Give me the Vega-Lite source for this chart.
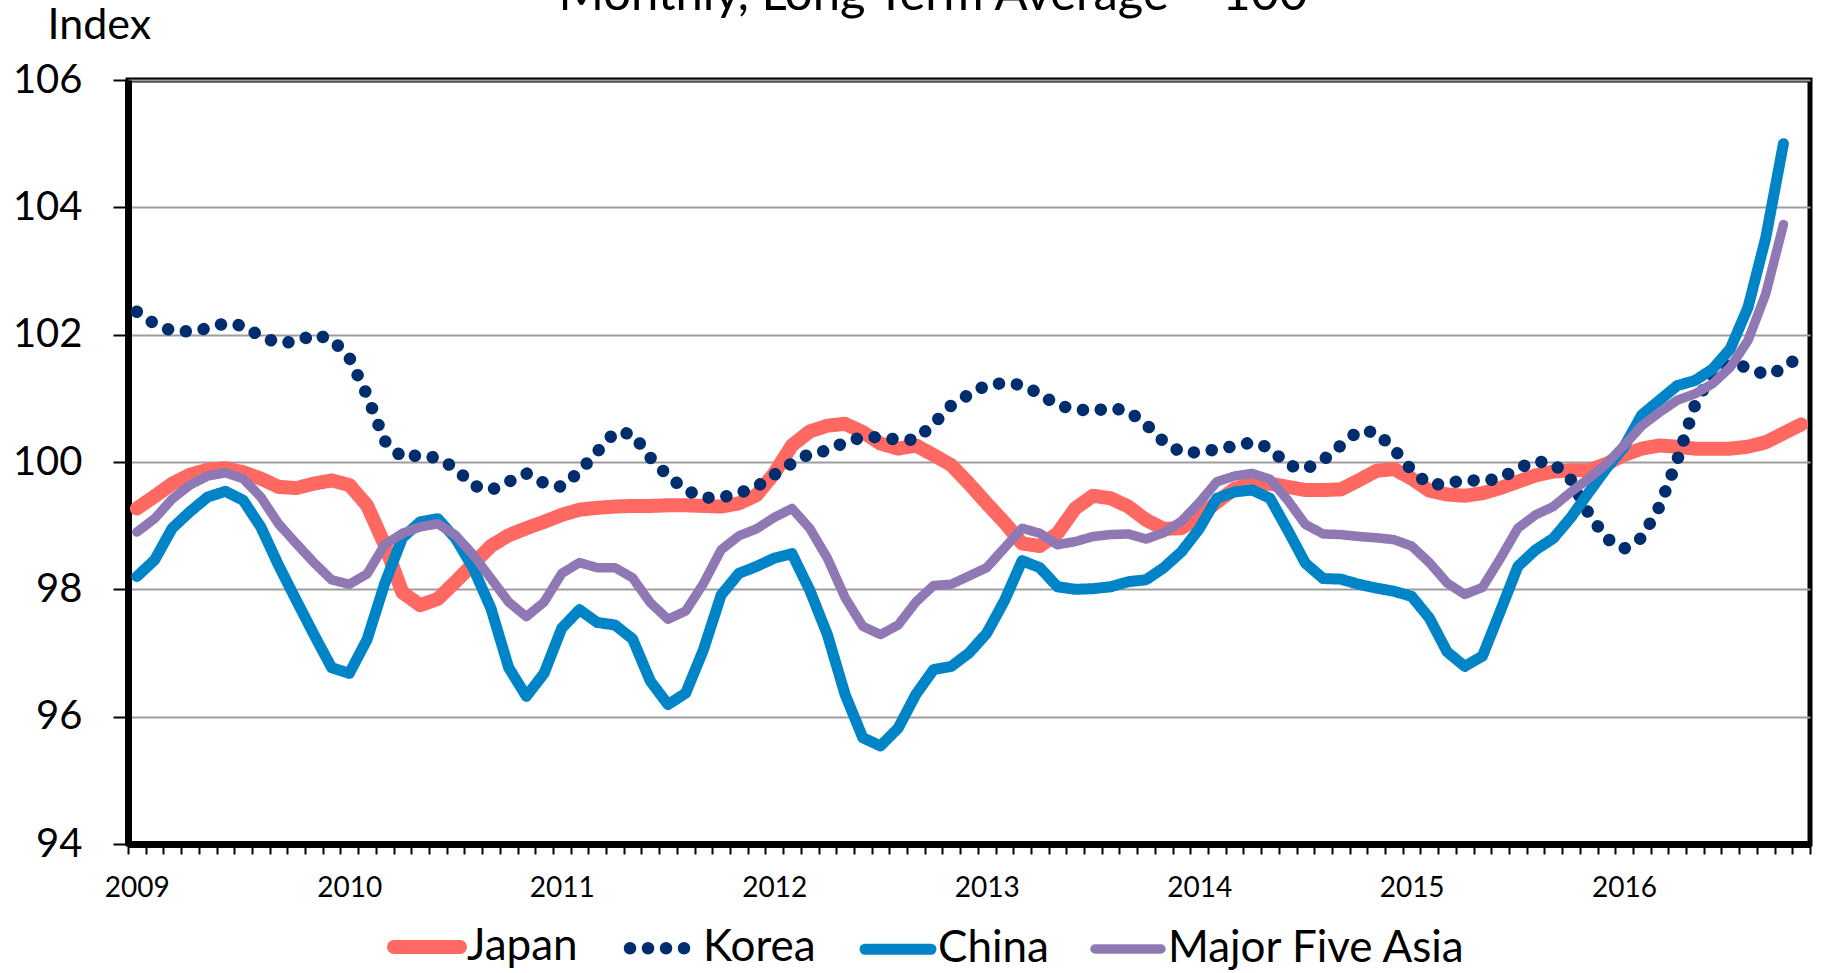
{
"$schema": "https://vega.github.io/schema/vega-lite/v6.json",
"width": 1682, "height": 764,
"autosize": {"type": "none"},
"padding": {"left": 128, "top": 80, "right": 14, "bottom": 129},
"background": "white",
"config": {
  "font": "Lato",
  "view": {"stroke": "black", "strokeWidth": 5},
  "axis": {"labelFont": "Lato", "titleFont": "Lato", "labelColor": "black", "titleColor": "black"},
  "legend": {"labelFont": "Lato", "labelColor": "black"}
},
"title": {"text": "Monthly, Long Term Average = 100", "font": "Lato", "fontSize": 49, "fontWeight": "normal", "color": "black", "anchor": "middle", "frame": "group", "dx": -36, "offset": -55, "baseline": "alphabetic"},
"data": {"values": [
{"m":"2009-01","s":"Japan","v":99.27},{"m":"2009-02","s":"Japan","v":99.46},{"m":"2009-03","s":"Japan","v":99.66},{"m":"2009-04","s":"Japan","v":99.8},{"m":"2009-05","s":"Japan","v":99.88},{"m":"2009-06","s":"Japan","v":99.9},{"m":"2009-07","s":"Japan","v":99.84},{"m":"2009-08","s":"Japan","v":99.74},{"m":"2009-09","s":"Japan","v":99.61},{"m":"2009-10","s":"Japan","v":99.59},{"m":"2009-11","s":"Japan","v":99.66},{"m":"2009-12","s":"Japan","v":99.71},
{"m":"2010-01","s":"Japan","v":99.64},{"m":"2010-02","s":"Japan","v":99.32},{"m":"2010-03","s":"Japan","v":98.7},{"m":"2010-04","s":"Japan","v":97.95},{"m":"2010-05","s":"Japan","v":97.75},{"m":"2010-06","s":"Japan","v":97.85},{"m":"2010-07","s":"Japan","v":98.12},{"m":"2010-08","s":"Japan","v":98.4},{"m":"2010-09","s":"Japan","v":98.68},{"m":"2010-10","s":"Japan","v":98.85},{"m":"2010-11","s":"Japan","v":98.96},{"m":"2010-12","s":"Japan","v":99.06},
{"m":"2011-01","s":"Japan","v":99.17},{"m":"2011-02","s":"Japan","v":99.25},{"m":"2011-03","s":"Japan","v":99.28},{"m":"2011-04","s":"Japan","v":99.3},{"m":"2011-05","s":"Japan","v":99.31},{"m":"2011-06","s":"Japan","v":99.31},{"m":"2011-07","s":"Japan","v":99.32},{"m":"2011-08","s":"Japan","v":99.32},{"m":"2011-09","s":"Japan","v":99.31},{"m":"2011-10","s":"Japan","v":99.3},{"m":"2011-11","s":"Japan","v":99.35},{"m":"2011-12","s":"Japan","v":99.48},
{"m":"2012-01","s":"Japan","v":99.82},{"m":"2012-02","s":"Japan","v":100.26},{"m":"2012-03","s":"Japan","v":100.48},{"m":"2012-04","s":"Japan","v":100.57},{"m":"2012-05","s":"Japan","v":100.6},{"m":"2012-06","s":"Japan","v":100.47},{"m":"2012-07","s":"Japan","v":100.29},{"m":"2012-08","s":"Japan","v":100.21},{"m":"2012-09","s":"Japan","v":100.26},{"m":"2012-10","s":"Japan","v":100.11},{"m":"2012-11","s":"Japan","v":99.95},{"m":"2012-12","s":"Japan","v":99.66},
{"m":"2013-01","s":"Japan","v":99.35},{"m":"2013-02","s":"Japan","v":99.05},{"m":"2013-03","s":"Japan","v":98.72},{"m":"2013-04","s":"Japan","v":98.68},{"m":"2013-05","s":"Japan","v":98.88},{"m":"2013-06","s":"Japan","v":99.27},{"m":"2013-07","s":"Japan","v":99.47},{"m":"2013-08","s":"Japan","v":99.43},{"m":"2013-09","s":"Japan","v":99.3},{"m":"2013-10","s":"Japan","v":99.09},{"m":"2013-11","s":"Japan","v":98.95},{"m":"2013-12","s":"Japan","v":98.96},
{"m":"2014-01","s":"Japan","v":99.15},{"m":"2014-02","s":"Japan","v":99.37},{"m":"2014-03","s":"Japan","v":99.58},{"m":"2014-04","s":"Japan","v":99.66},{"m":"2014-05","s":"Japan","v":99.66},{"m":"2014-06","s":"Japan","v":99.61},{"m":"2014-07","s":"Japan","v":99.56},{"m":"2014-08","s":"Japan","v":99.56},{"m":"2014-09","s":"Japan","v":99.57},{"m":"2014-10","s":"Japan","v":99.71},{"m":"2014-11","s":"Japan","v":99.86},{"m":"2014-12","s":"Japan","v":99.89},
{"m":"2015-01","s":"Japan","v":99.74},{"m":"2015-02","s":"Japan","v":99.55},{"m":"2015-03","s":"Japan","v":99.49},{"m":"2015-04","s":"Japan","v":99.47},{"m":"2015-05","s":"Japan","v":99.51},{"m":"2015-06","s":"Japan","v":99.59},{"m":"2015-07","s":"Japan","v":99.69},{"m":"2015-08","s":"Japan","v":99.79},{"m":"2015-09","s":"Japan","v":99.85},{"m":"2015-10","s":"Japan","v":99.87},{"m":"2015-11","s":"Japan","v":99.87},{"m":"2015-12","s":"Japan","v":99.97},
{"m":"2016-01","s":"Japan","v":100.11},{"m":"2016-02","s":"Japan","v":100.21},{"m":"2016-03","s":"Japan","v":100.26},{"m":"2016-04","s":"Japan","v":100.24},{"m":"2016-05","s":"Japan","v":100.21},{"m":"2016-06","s":"Japan","v":100.21},{"m":"2016-07","s":"Japan","v":100.21},{"m":"2016-08","s":"Japan","v":100.24},{"m":"2016-09","s":"Japan","v":100.31},{"m":"2016-10","s":"Japan","v":100.45},{"m":"2016-11","s":"Japan","v":100.59},
{"m":"2009-01","s":"Korea","v":102.36},{"m":"2009-02","s":"Korea","v":102.17},{"m":"2009-03","s":"Korea","v":102.06},{"m":"2009-04","s":"Korea","v":102.05},{"m":"2009-05","s":"Korea","v":102.1},{"m":"2009-06","s":"Korea","v":102.18},{"m":"2009-07","s":"Korea","v":102.14},{"m":"2009-08","s":"Korea","v":101.97},{"m":"2009-09","s":"Korea","v":101.87},{"m":"2009-10","s":"Korea","v":101.89},{"m":"2009-11","s":"Korea","v":102.0},{"m":"2009-12","s":"Korea","v":101.93},
{"m":"2010-01","s":"Korea","v":101.64},{"m":"2010-02","s":"Korea","v":101.05},{"m":"2010-03","s":"Korea","v":100.33},{"m":"2010-04","s":"Korea","v":100.07},{"m":"2010-05","s":"Korea","v":100.11},{"m":"2010-06","s":"Korea","v":100.06},{"m":"2010-07","s":"Korea","v":99.9},{"m":"2010-08","s":"Korea","v":99.63},{"m":"2010-09","s":"Korea","v":99.56},{"m":"2010-10","s":"Korea","v":99.69},{"m":"2010-11","s":"Korea","v":99.82},{"m":"2010-12","s":"Korea","v":99.67},
{"m":"2011-01","s":"Korea","v":99.61},{"m":"2011-02","s":"Korea","v":99.85},{"m":"2011-03","s":"Korea","v":100.16},{"m":"2011-04","s":"Korea","v":100.47},{"m":"2011-05","s":"Korea","v":100.44},{"m":"2011-06","s":"Korea","v":100.07},{"m":"2011-07","s":"Korea","v":99.78},{"m":"2011-08","s":"Korea","v":99.56},{"m":"2011-09","s":"Korea","v":99.44},{"m":"2011-10","s":"Korea","v":99.44},{"m":"2011-11","s":"Korea","v":99.51},{"m":"2011-12","s":"Korea","v":99.61},
{"m":"2012-01","s":"Korea","v":99.8},{"m":"2012-02","s":"Korea","v":99.98},{"m":"2012-03","s":"Korea","v":100.13},{"m":"2012-04","s":"Korea","v":100.18},{"m":"2012-05","s":"Korea","v":100.31},{"m":"2012-06","s":"Korea","v":100.39},{"m":"2012-07","s":"Korea","v":100.39},{"m":"2012-08","s":"Korea","v":100.35},{"m":"2012-09","s":"Korea","v":100.35},{"m":"2012-10","s":"Korea","v":100.6},{"m":"2012-11","s":"Korea","v":100.89},{"m":"2012-12","s":"Korea","v":101.06},
{"m":"2013-01","s":"Korea","v":101.21},{"m":"2013-02","s":"Korea","v":101.24},{"m":"2013-03","s":"Korea","v":101.21},{"m":"2013-04","s":"Korea","v":101.07},{"m":"2013-05","s":"Korea","v":100.89},{"m":"2013-06","s":"Korea","v":100.83},{"m":"2013-07","s":"Korea","v":100.8},{"m":"2013-08","s":"Korea","v":100.85},{"m":"2013-09","s":"Korea","v":100.8},{"m":"2013-10","s":"Korea","v":100.59},{"m":"2013-11","s":"Korea","v":100.32},{"m":"2013-12","s":"Korea","v":100.15},
{"m":"2014-01","s":"Korea","v":100.15},{"m":"2014-02","s":"Korea","v":100.2},{"m":"2014-03","s":"Korea","v":100.25},{"m":"2014-04","s":"Korea","v":100.31},{"m":"2014-05","s":"Korea","v":100.22},{"m":"2014-06","s":"Korea","v":99.95},{"m":"2014-07","s":"Korea","v":99.89},{"m":"2014-08","s":"Korea","v":100.03},{"m":"2014-09","s":"Korea","v":100.26},{"m":"2014-10","s":"Korea","v":100.49},{"m":"2014-11","s":"Korea","v":100.47},{"m":"2014-12","s":"Korea","v":100.2},
{"m":"2015-01","s":"Korea","v":99.87},{"m":"2015-02","s":"Korea","v":99.64},{"m":"2015-03","s":"Korea","v":99.66},{"m":"2015-04","s":"Korea","v":99.72},{"m":"2015-05","s":"Korea","v":99.7},{"m":"2015-06","s":"Korea","v":99.74},{"m":"2015-07","s":"Korea","v":99.9},{"m":"2015-08","s":"Korea","v":100.01},{"m":"2015-09","s":"Korea","v":99.98},{"m":"2015-10","s":"Korea","v":99.72},{"m":"2015-11","s":"Korea","v":99.19},{"m":"2015-12","s":"Korea","v":98.8},
{"m":"2016-01","s":"Korea","v":98.64},{"m":"2016-02","s":"Korea","v":98.81},{"m":"2016-03","s":"Korea","v":99.3},{"m":"2016-04","s":"Korea","v":100.03},{"m":"2016-05","s":"Korea","v":100.89},{"m":"2016-06","s":"Korea","v":101.42},{"m":"2016-07","s":"Korea","v":101.55},{"m":"2016-08","s":"Korea","v":101.48},{"m":"2016-09","s":"Korea","v":101.37},{"m":"2016-10","s":"Korea","v":101.46},{"m":"2016-11","s":"Korea","v":101.69},
{"m":"2009-01","s":"China","v":98.2},{"m":"2009-02","s":"China","v":98.46},{"m":"2009-03","s":"China","v":98.96},{"m":"2009-04","s":"China","v":99.22},{"m":"2009-05","s":"China","v":99.45},{"m":"2009-06","s":"China","v":99.54},{"m":"2009-07","s":"China","v":99.4},{"m":"2009-08","s":"China","v":98.98},{"m":"2009-09","s":"China","v":98.38},{"m":"2009-10","s":"China","v":97.83},{"m":"2009-11","s":"China","v":97.29},{"m":"2009-12","s":"China","v":96.77},
{"m":"2010-01","s":"China","v":96.68},{"m":"2010-02","s":"China","v":97.21},{"m":"2010-03","s":"China","v":98.09},{"m":"2010-04","s":"China","v":98.81},{"m":"2010-05","s":"China","v":99.06},{"m":"2010-06","s":"China","v":99.11},{"m":"2010-07","s":"China","v":98.8},{"m":"2010-08","s":"China","v":98.33},{"m":"2010-09","s":"China","v":97.7},{"m":"2010-10","s":"China","v":96.77},{"m":"2010-11","s":"China","v":96.32},{"m":"2010-12","s":"China","v":96.68},
{"m":"2011-01","s":"China","v":97.39},{"m":"2011-02","s":"China","v":97.68},{"m":"2011-03","s":"China","v":97.48},{"m":"2011-04","s":"China","v":97.44},{"m":"2011-05","s":"China","v":97.22},{"m":"2011-06","s":"China","v":96.56},{"m":"2011-07","s":"China","v":96.19},{"m":"2011-08","s":"China","v":96.37},{"m":"2011-09","s":"China","v":97.05},{"m":"2011-10","s":"China","v":97.91},{"m":"2011-11","s":"China","v":98.25},{"m":"2011-12","s":"China","v":98.36},
{"m":"2012-01","s":"China","v":98.49},{"m":"2012-02","s":"China","v":98.56},{"m":"2012-03","s":"China","v":97.99},{"m":"2012-04","s":"China","v":97.29},{"m":"2012-05","s":"China","v":96.35},{"m":"2012-06","s":"China","v":95.67},{"m":"2012-07","s":"China","v":95.54},{"m":"2012-08","s":"China","v":95.82},{"m":"2012-09","s":"China","v":96.35},{"m":"2012-10","s":"China","v":96.74},{"m":"2012-11","s":"China","v":96.79},{"m":"2012-12","s":"China","v":97.0},
{"m":"2013-01","s":"China","v":97.31},{"m":"2013-02","s":"China","v":97.82},{"m":"2013-03","s":"China","v":98.45},{"m":"2013-04","s":"China","v":98.34},{"m":"2013-05","s":"China","v":98.04},{"m":"2013-06","s":"China","v":98.0},{"m":"2013-07","s":"China","v":98.01},{"m":"2013-08","s":"China","v":98.04},{"m":"2013-09","s":"China","v":98.12},{"m":"2013-10","s":"China","v":98.15},{"m":"2013-11","s":"China","v":98.34},{"m":"2013-12","s":"China","v":98.59},
{"m":"2014-01","s":"China","v":98.95},{"m":"2014-02","s":"China","v":99.43},{"m":"2014-03","s":"China","v":99.53},{"m":"2014-04","s":"China","v":99.56},{"m":"2014-05","s":"China","v":99.43},{"m":"2014-06","s":"China","v":98.93},{"m":"2014-07","s":"China","v":98.41},{"m":"2014-08","s":"China","v":98.17},{"m":"2014-09","s":"China","v":98.16},{"m":"2014-10","s":"China","v":98.08},{"m":"2014-11","s":"China","v":98.02},{"m":"2014-12","s":"China","v":97.97},
{"m":"2015-01","s":"China","v":97.89},{"m":"2015-02","s":"China","v":97.55},{"m":"2015-03","s":"China","v":97.02},{"m":"2015-04","s":"China","v":96.79},{"m":"2015-05","s":"China","v":96.95},{"m":"2015-06","s":"China","v":97.65},{"m":"2015-07","s":"China","v":98.36},{"m":"2015-08","s":"China","v":98.62},{"m":"2015-09","s":"China","v":98.8},{"m":"2015-10","s":"China","v":99.13},{"m":"2015-11","s":"China","v":99.52},{"m":"2015-12","s":"China","v":99.9},
{"m":"2016-01","s":"China","v":100.24},{"m":"2016-02","s":"China","v":100.74},{"m":"2016-03","s":"China","v":100.97},{"m":"2016-04","s":"China","v":101.2},{"m":"2016-05","s":"China","v":101.28},{"m":"2016-06","s":"China","v":101.46},{"m":"2016-07","s":"China","v":101.78},{"m":"2016-08","s":"China","v":102.43},{"m":"2016-09","s":"China","v":103.52},{"m":"2016-10","s":"China","v":105.0},
{"m":"2009-01","s":"Major Five Asia","v":98.9},{"m":"2009-02","s":"Major Five Asia","v":99.11},{"m":"2009-03","s":"Major Five Asia","v":99.42},{"m":"2009-04","s":"Major Five Asia","v":99.64},{"m":"2009-05","s":"Major Five Asia","v":99.78},{"m":"2009-06","s":"Major Five Asia","v":99.83},{"m":"2009-07","s":"Major Five Asia","v":99.74},{"m":"2009-08","s":"Major Five Asia","v":99.45},{"m":"2009-09","s":"Major Five Asia","v":99.03},{"m":"2009-10","s":"Major Five Asia","v":98.72},{"m":"2009-11","s":"Major Five Asia","v":98.42},{"m":"2009-12","s":"Major Five Asia","v":98.15},
{"m":"2010-01","s":"Major Five Asia","v":98.08},{"m":"2010-02","s":"Major Five Asia","v":98.24},{"m":"2010-03","s":"Major Five Asia","v":98.7},{"m":"2010-04","s":"Major Five Asia","v":98.88},{"m":"2010-05","s":"Major Five Asia","v":98.98},{"m":"2010-06","s":"Major Five Asia","v":99.03},{"m":"2010-07","s":"Major Five Asia","v":98.85},{"m":"2010-08","s":"Major Five Asia","v":98.54},{"m":"2010-09","s":"Major Five Asia","v":98.17},{"m":"2010-10","s":"Major Five Asia","v":97.8},{"m":"2010-11","s":"Major Five Asia","v":97.57},{"m":"2010-12","s":"Major Five Asia","v":97.8},
{"m":"2011-01","s":"Major Five Asia","v":98.25},{"m":"2011-02","s":"Major Five Asia","v":98.42},{"m":"2011-03","s":"Major Five Asia","v":98.34},{"m":"2011-04","s":"Major Five Asia","v":98.34},{"m":"2011-05","s":"Major Five Asia","v":98.18},{"m":"2011-06","s":"Major Five Asia","v":97.79},{"m":"2011-07","s":"Major Five Asia","v":97.53},{"m":"2011-08","s":"Major Five Asia","v":97.66},{"m":"2011-09","s":"Major Five Asia","v":98.09},{"m":"2011-10","s":"Major Five Asia","v":98.62},{"m":"2011-11","s":"Major Five Asia","v":98.84},{"m":"2011-12","s":"Major Five Asia","v":98.95},
{"m":"2012-01","s":"Major Five Asia","v":99.13},{"m":"2012-02","s":"Major Five Asia","v":99.27},{"m":"2012-03","s":"Major Five Asia","v":98.96},{"m":"2012-04","s":"Major Five Asia","v":98.49},{"m":"2012-05","s":"Major Five Asia","v":97.87},{"m":"2012-06","s":"Major Five Asia","v":97.42},{"m":"2012-07","s":"Major Five Asia","v":97.29},{"m":"2012-08","s":"Major Five Asia","v":97.44},{"m":"2012-09","s":"Major Five Asia","v":97.8},{"m":"2012-10","s":"Major Five Asia","v":98.06},{"m":"2012-11","s":"Major Five Asia","v":98.08},{"m":"2012-12","s":"Major Five Asia","v":98.21},
{"m":"2013-01","s":"Major Five Asia","v":98.34},{"m":"2013-02","s":"Major Five Asia","v":98.65},{"m":"2013-03","s":"Major Five Asia","v":98.96},{"m":"2013-04","s":"Major Five Asia","v":98.88},{"m":"2013-05","s":"Major Five Asia","v":98.7},{"m":"2013-06","s":"Major Five Asia","v":98.75},{"m":"2013-07","s":"Major Five Asia","v":98.83},{"m":"2013-08","s":"Major Five Asia","v":98.86},{"m":"2013-09","s":"Major Five Asia","v":98.87},{"m":"2013-10","s":"Major Five Asia","v":98.79},{"m":"2013-11","s":"Major Five Asia","v":98.89},{"m":"2013-12","s":"Major Five Asia","v":99.07},
{"m":"2014-01","s":"Major Five Asia","v":99.36},{"m":"2014-02","s":"Major Five Asia","v":99.69},{"m":"2014-03","s":"Major Five Asia","v":99.78},{"m":"2014-04","s":"Major Five Asia","v":99.82},{"m":"2014-05","s":"Major Five Asia","v":99.73},{"m":"2014-06","s":"Major Five Asia","v":99.4},{"m":"2014-07","s":"Major Five Asia","v":99.02},{"m":"2014-08","s":"Major Five Asia","v":98.87},{"m":"2014-09","s":"Major Five Asia","v":98.86},{"m":"2014-10","s":"Major Five Asia","v":98.83},{"m":"2014-11","s":"Major Five Asia","v":98.81},{"m":"2014-12","s":"Major Five Asia","v":98.78},
{"m":"2015-01","s":"Major Five Asia","v":98.68},{"m":"2015-02","s":"Major Five Asia","v":98.42},{"m":"2015-03","s":"Major Five Asia","v":98.1},{"m":"2015-04","s":"Major Five Asia","v":97.92},{"m":"2015-05","s":"Major Five Asia","v":98.03},{"m":"2015-06","s":"Major Five Asia","v":98.48},{"m":"2015-07","s":"Major Five Asia","v":98.96},{"m":"2015-08","s":"Major Five Asia","v":99.17},{"m":"2015-09","s":"Major Five Asia","v":99.3},{"m":"2015-10","s":"Major Five Asia","v":99.53},{"m":"2015-11","s":"Major Five Asia","v":99.74},{"m":"2015-12","s":"Major Five Asia","v":99.97},
{"m":"2016-01","s":"Major Five Asia","v":100.26},{"m":"2016-02","s":"Major Five Asia","v":100.57},{"m":"2016-03","s":"Major Five Asia","v":100.78},{"m":"2016-04","s":"Major Five Asia","v":100.97},{"m":"2016-05","s":"Major Five Asia","v":101.07},{"m":"2016-06","s":"Major Five Asia","v":101.23},{"m":"2016-07","s":"Major Five Asia","v":101.49},{"m":"2016-08","s":"Major Five Asia","v":101.91},{"m":"2016-09","s":"Major Five Asia","v":102.64},{"m":"2016-10","s":"Major Five Asia","v":103.73}
]},
"mark": {"type": "line", "strokeCap": "round", "strokeJoin": "round"},
"encoding": {
  "x": {"field": "m", "type": "ordinal", "bandPosition": 0.5,
    "scale": {"type": "band", "paddingInner": 0, "paddingOuter": 0},
    "axis": {"title": null, "labelExpr": "substring(datum.value,5,7)=='01' ? substring(datum.value,0,4) : ''", "labelAngle": 0, "labelFontSize": 28, "labelPadding": 20, "labelBaseline": "top", "tickBand": "extent", "ticks": true, "tickSize": 10, "tickWidth": 2, "tickColor": "black", "domain": true, "domainColor": "black", "domainWidth": 7, "grid": false, "labelOverlap": false, "labelBound": false, "labelFlush": false}},
  "y": {"field": "v", "type": "quantitative",
    "scale": {"domain": [94, 106], "nice": false, "zero": false},
    "axis": {"title": "Index", "titleAngle": 0, "titleAlign": "left", "titleBaseline": "alphabetic", "titleX": -81, "titleY": -42, "titleFontSize": 43, "titleFontWeight": "normal", "values": [94, 96, 98, 100, 102, 104, 106], "labelFontSize": 40, "labelPadding": 31, "labelFlush": false, "labelBound": false, "tickSize": 15, "tickWidth": 2, "tickColor": "black", "domain": true, "domainColor": "black", "domainWidth": 7, "grid": true, "gridColor": "#9d9d9d", "gridWidth": 2}},
  "color": {"field": "s", "type": "nominal",
    "scale": {"domain": ["Japan", "Korea", "China", "Major Five Asia"], "range": ["#FF6961", "#002D6E", "#0084C8", "#8F78B4"]},
    "legend": {"title": null, "orient": "none", "legendX": 259, "legendY": 827, "direction": "horizontal", "columns": 4, "padding": 0, "labelFontSize": 44, "labelLimit": 600, "symbolType": "stroke", "symbolSize": 4356, "labelOffset": 0, "columnPadding": 27,
      "encode": {"symbols": {"update": {"strokeCap": {"value": "round"}}}}}},
  "strokeWidth": {"field": "s", "type": "nominal",
    "scale": {"domain": ["Japan", "Korea", "China", "Major Five Asia"], "range": [14, 9.5, 9, 5.5]}},
  "strokeDash": {"field": "s", "type": "nominal",
    "scale": {"domain": ["Japan", "Korea", "China", "Major Five Asia"], "range": [[1, 0], [0.01, 18], [1, 0], [1, 0]]}}
}
}
